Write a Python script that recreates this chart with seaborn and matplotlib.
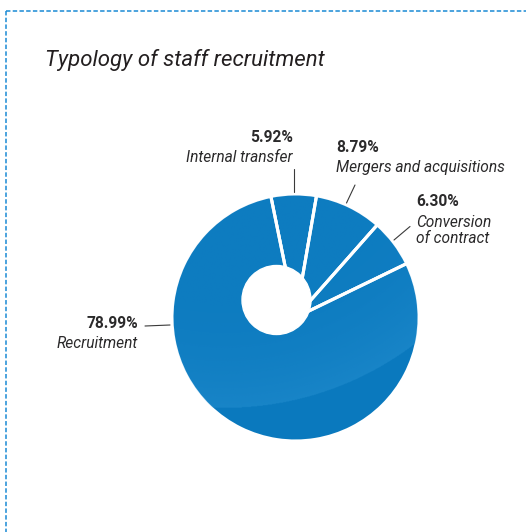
import numpy as np
import matplotlib
matplotlib.use("Agg")
import matplotlib.pyplot as plt
from matplotlib.patches import Circle
from matplotlib.colors import to_rgb
import seaborn as sns

# Recruitment channels (share of hires, %)
categories = ["Internal transfer", "Mergers and acquisitions", "Conversion\nof contract", "Recruitment"]
shares = [5.92, 8.79, 6.30, 78.99]
pct_labels = ["5.92%", "8.79%", "6.30%", "78.99%"]
title = "Typology of staff recruitment"

sns.set_theme(style="white")
plt.rcParams["font.family"] = ["Roboto", "DejaVu Sans"]

W, H = 526, 532
BLUE = sns.light_palette("#0a79be", n_colors=2)[-1]
SHEEN = to_rgb("#3aa0de")
TEXT = "#2b2a2b"

fig = plt.figure(figsize=(W / 100, H / 100), dpi=100)
ax = fig.add_axes([0, 0, 1, 1])


def Y(y):
    """Convert a top-down pixel row into the axes' y-up units."""
    return H - y


cx, cy, r = 295.5, Y(317.5), 123.5

wedges, _ = ax.pie(
    shares,
    colors=[BLUE] * len(shares),
    startangle=101.5,
    counterclock=False,
    center=(cx, cy),
    radius=r,
    wedgeprops=dict(edgecolor="white", linewidth=2.2),
)

# soft sheen across the upper part of the disc
gx, gy, gr = 225.0, Y(94.0), 314.0
xs = np.linspace(cx - r, cx + r, 400)
ys = np.linspace(cy - r, cy + r, 400)
XX, YY = np.meshgrid(xs, ys)
d = np.hypot(XX - gx, YY - gy)
t = np.clip((d - 200) / (gr - 200), 0, 1)
alpha = np.where(d < gr, 0.08 + 0.22 * t ** 2.0, 0.0)
rgba = np.zeros(XX.shape + (4,))
rgba[..., :3] = SHEEN
rgba[..., 3] = alpha
disc = Circle((cx, cy), r - 1.0, transform=ax.transData)
im = ax.imshow(rgba, extent=(cx - r, cx + r, cy - r, cy + r), origin="lower",
               zorder=3, interpolation="bilinear")
im.set_clip_path(disc)

# redraw the white separators above the sheen
for w in wedges:
    th = np.deg2rad(w.theta1)
    ax.plot([cx, cx + r * np.cos(th)], [cy, cy + r * np.sin(th)],
            color="white", lw=2.2, zorder=4, solid_capstyle="butt")

# off-centre hole
ax.add_patch(Circle((276.5, Y(300.0)), 34.5, color="white", zorder=5))

# labels with leader lines
lab_kw = dict(color=TEXT, fontsize=11.2)
ax.text(293, Y(138), pct_labels[0], ha="right", va="center", fontweight="bold", **lab_kw)
ax.text(293, Y(158), categories[0], ha="right", va="center", style="italic", **lab_kw)
ax.plot([294, 294], [Y(169), Y(192)], color="#3a3a3a", lw=0.8)

ax.text(336, Y(148), pct_labels[1], ha="left", va="center", fontweight="bold", **lab_kw)
ax.text(336, Y(167.5), categories[1], ha="left", va="center", style="italic", **lab_kw)
ax.plot([355, 346.5], [Y(185), Y(203)], color="#3a3a3a", lw=0.8)

ax.text(416, Y(201.5), pct_labels[2], ha="left", va="center", fontweight="bold", **lab_kw)
ax.text(416, Y(230.5), categories[2], ha="left", va="center", style="italic",
        linespacing=1.1, **lab_kw)
ax.plot([410, 394], [Y(226.5), Y(240)], color="#3a3a3a", lw=0.8)

ax.text(138, Y(324), pct_labels[3], ha="right", va="center", fontweight="bold", **lab_kw)
ax.text(138, Y(343), categories[3], ha="right", va="center", style="italic", **lab_kw)
ax.plot([145, 170], [Y(326), Y(325)], color="#3a3a3a", lw=0.8)

# title
ax.text(45, Y(60), title, ha="left", va="center", style="italic",
        fontsize=16, color="#231f20")

# dashed frame (top and left edges)
frame_kw = dict(color="#1a8ad4", lw=1.1, linestyle=(0, (2.9, 1.5)))
ax.plot([5.5, W], [Y(10.5), Y(10.5)], **frame_kw)
ax.plot([5.5, 5.5], [Y(10.5), 0], **frame_kw)

ax.set_xlim(0, W)
ax.set_ylim(0, H)
ax.set_aspect("equal")
ax.axis("off")

fig.savefig("out.png", dpi=100, facecolor="white")
